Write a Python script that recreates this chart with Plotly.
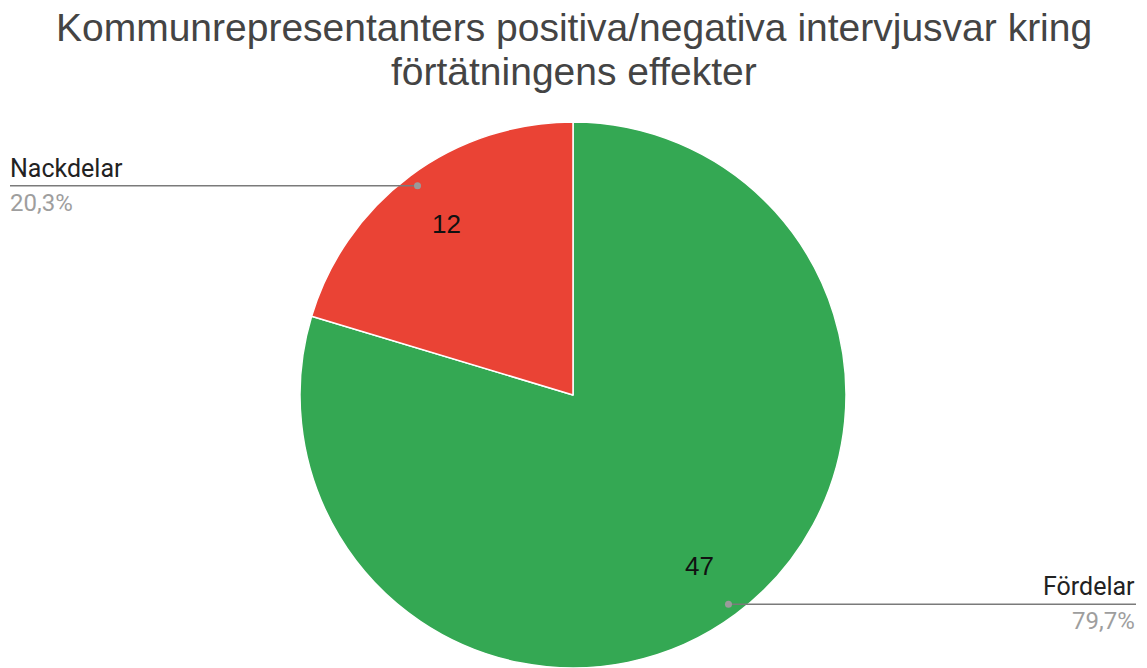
import math
import plotly.graph_objects as go

# ---- data ----
labels = ["Fördelar", "Nackdelar"]
values = [47, 12]
colors = ["#34A853", "#EA4335"]
title_lines = ["Kommunrepresentanters positiva/negativa intervjusvar kring",
               "förtätningens effekter"]

# ---- layout constants (page pixels; the page body has an 8px offset) ----
PAGE_W, PAGE_H = 1147, 668
OFF = 8
W, H = PAGE_W - OFF, PAGE_H - OFF
R = 273
CX, CY = 573, PAGE_H - R
TITLE_FONT = "Liberation Sans, Arial, sans-serif"
LABEL_FONT = "Roboto, Arial, sans-serif"


def px(x):
    return (x - OFF) / W


def py(y):
    return 1 - (y - OFF) / H


total = sum(values)
fig = go.Figure(go.Pie(
    labels=labels, values=values, sort=False, direction="clockwise", rotation=0,
    marker=dict(colors=colors, line=dict(color="white", width=1.5)),
    textinfo="none", hoverinfo="label+value+percent", showlegend=False,
    domain=dict(x=[0, 2 * (CX - OFF) / W], y=[0, 2 * R / H]),
))

annotations = []
shapes = []
cum = 0
for lab, v in zip(labels, values):
    start = cum / total * 2 * math.pi
    mid = start + v / total * math.pi
    cum += v
    sx, sy = math.sin(mid), -math.cos(mid)
    # value inside slice
    annotations.append(dict(x=px(CX + 0.78 * R * sx), y=py(CY + 0.78 * R * sy),
                            xref="paper", yref="paper", text=str(v), showarrow=False,
                            xanchor="center", yanchor="middle",
                            font=dict(family=TITLE_FONT, size=26, color="#111")))
    # leader line with dot
    dx, dy = CX + 0.955 * R * sx, CY + 0.955 * R * sy
    right = sx > 0
    ex = PAGE_W - 11 if right else 10
    tx = PAGE_W - 10 if right else 8
    shapes.append(dict(type="line", xref="paper", yref="paper",
                       x0=px(dx), y0=py(dy), x1=px(ex), y1=py(dy),
                       line=dict(color="#7a7a7a", width=1.5)))
    shapes.append(dict(type="circle", xref="paper", yref="paper",
                       x0=px(dx - 3.5), x1=px(dx + 3.5), y0=py(dy - 3.5), y1=py(dy + 3.5),
                       fillcolor="#9a9a9a", line=dict(width=0)))
    anchor = "right" if right else "left"
    pct = f"{v / total * 100:.1f}".replace(".", ",") + "%"
    annotations.append(dict(x=px(tx), y=py(dy - 1), xref="paper", yref="paper",
                            text=lab, showarrow=False, xanchor=anchor, yanchor="bottom",
                            font=dict(family=LABEL_FONT, size=25, color="#222")))
    annotations.append(dict(x=px(tx), y=py(dy + 1), xref="paper", yref="paper",
                            text=pct, showarrow=False, xanchor=anchor, yanchor="top",
                            font=dict(family=LABEL_FONT, size=24, color="#9e9e9e")))

# title lines
for i, line in enumerate(title_lines):
    annotations.append(dict(x=px(PAGE_W / 2), y=py(28 + 44 * i), xref="paper", yref="paper",
                            text=line, showarrow=False, xanchor="center", yanchor="middle",
                            font=dict(family=TITLE_FONT, size=39, color="#444")))

fig.update_layout(
    width=W, height=H,
    margin=dict(l=0, r=0, t=0, b=0),
    paper_bgcolor="white", plot_bgcolor="white",
    annotations=annotations, shapes=shapes,
)

fig.write_html("out.html")
